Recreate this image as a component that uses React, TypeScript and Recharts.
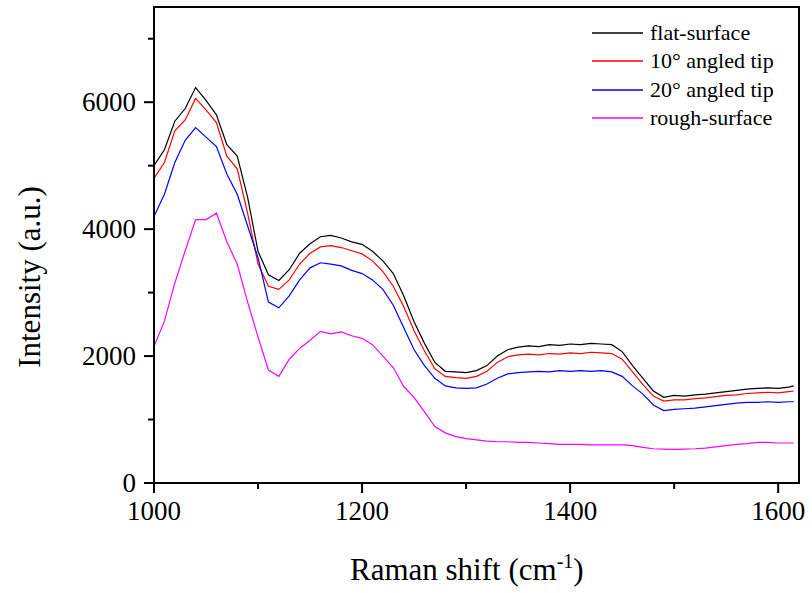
import React from "react";
import {
  LineChart,
  Line,
  XAxis,
  YAxis,
  ReferenceArea,
  Legend,
} from "recharts";

// Raman shift values (cm-1)
const shifts = [
  1000, 1010, 1020, 1030, 1040, 1050, 1060, 1070, 1080, 1090, 1100, 1110, 1120,
  1130, 1140, 1150, 1160, 1170, 1180, 1190, 1200, 1210, 1220, 1230, 1240, 1250,
  1260, 1270, 1280, 1290, 1300, 1310, 1320, 1330, 1340, 1350, 1360, 1370, 1380,
  1390, 1400, 1410, 1420, 1430, 1440, 1450, 1460, 1470, 1480, 1490, 1500, 1510,
  1520, 1530, 1540, 1550, 1560, 1570, 1580, 1590, 1600, 1610, 1615,
];

const flatSurface = [
  5000, 5250, 5700, 5900, 6230, 6030, 5800, 5330, 5150, 4500, 3650, 3280, 3190,
  3360, 3620, 3770, 3880, 3900, 3860, 3800, 3760, 3650, 3500, 3300, 2950, 2540,
  2200, 1900, 1760, 1750, 1740, 1770, 1850, 2000, 2100, 2140, 2160, 2150, 2180,
  2170, 2190, 2180, 2200, 2190, 2180, 2070, 1850, 1650, 1450, 1350, 1380, 1370,
  1390, 1400, 1420, 1440, 1460, 1480, 1490, 1500, 1490, 1510, 1530,
];

const tip10 = [
  4800, 5050, 5550, 5720, 6060, 5880, 5680, 5150, 4950, 4250, 3450, 3100, 3050,
  3200, 3450, 3620, 3720, 3740, 3710, 3660, 3610, 3500, 3330, 3100, 2780, 2400,
  2080, 1800, 1680, 1660, 1650, 1680, 1760, 1900, 1990, 2020, 2030, 2020, 2040,
  2030, 2050, 2040, 2060, 2050, 2040, 1950, 1750, 1550, 1370, 1290, 1310, 1310,
  1330, 1340, 1360, 1380, 1390, 1410, 1420, 1430, 1420, 1440, 1450,
];

const tip20 = [
  4200, 4550, 5050, 5400, 5600, 5450, 5300, 4870, 4550, 4050, 3550, 2850, 2760,
  2950, 3200, 3390, 3470, 3450, 3420, 3350, 3300, 3200, 3050, 2800, 2450, 2100,
  1850, 1650, 1530, 1500, 1490, 1500, 1560, 1650, 1720, 1740, 1750, 1760, 1750,
  1770, 1760, 1770, 1760, 1770, 1750, 1680, 1530, 1400, 1230, 1140, 1160, 1170,
  1180, 1200, 1220, 1240, 1260, 1270, 1270, 1280, 1270, 1280, 1280,
];

const roughSurface = [
  2150, 2550, 3150, 3660, 4150, 4150, 4250, 3800, 3450, 2850, 2300, 1780, 1680,
  1950, 2120, 2250, 2390, 2350, 2380, 2320, 2280, 2180, 2000, 1820, 1520, 1350,
  1120, 890, 790, 730, 700, 680, 660, 650, 650, 640, 640, 630, 620, 610, 610,
  610, 600, 600, 600, 600, 590, 560, 540, 535, 530, 535, 540, 550, 570, 590, 610,
  620, 640, 640, 630, 630, 630,
];

const xTicks = [1000, 1100, 1200, 1300, 1400, 1500, 1600];
const xLabels = [1000, 1200, 1400, 1600];
const yTicks = [0, 1000, 2000, 3000, 4000, 5000, 6000, 7000];
const yLabels = [0, 2000, 4000, 6000];

const seriesNames = ["flat-surface", "10\u00b0 angled tip", "20\u00b0 angled tip", "rough-surface"];
const seriesKeys = ["flat", "tip10", "tip20", "rough"];
const seriesColors = ["#000000", "#ff0000", "#0000ff", "#ff00ff"];

const data = shifts.map((x, i) => ({
  x,
  flat: flatSurface[i],
  tip10: tip10[i],
  tip20: tip20[i],
  rough: roughSurface[i],
}));

const FONT = "'Liberation Serif', 'Times New Roman', serif";

const XTick = (props: any) => {
  const { x, y, payload } = props;
  const major = xLabels.includes(payload.value);
  return (
    <g>
      <line x1={x} y1={y} x2={x} y2={y + (major ? 10 : 6)} stroke="#000" strokeWidth={2} />
      {major && (
        <text x={x} y={y + 37} textAnchor="middle" fontSize={27} fontFamily={FONT} fill="#000">
          {payload.value}
        </text>
      )}
    </g>
  );
};

const YTick = (props: any) => {
  const { x, y, payload } = props;
  const major = yLabels.includes(payload.value);
  return (
    <g>
      <line x1={x} y1={y} x2={x - (major ? 10 : 6)} y2={y} stroke="#000" strokeWidth={2} />
      {major && (
        <text x={x - 18} y={y + 9} textAnchor="end" fontSize={27} fontFamily={FONT} fill="#000">
          {payload.value}
        </text>
      )}
    </g>
  );
};

const renderLegend = () => (
  <div style={{ fontFamily: FONT, fontSize: 22, color: "#000" }}>
    {seriesNames.map((name, i) => (
      <div key={name} style={{ display: "flex", alignItems: "center", height: 28.3 }}>
        <svg width={58} height={10} style={{ display: "block" }}>
          <line x1={0} y1={5} x2={51} y2={5} stroke={seriesColors[i]} strokeWidth={1.5} />
        </svg>
        <span style={{ lineHeight: "22px" }}>{name}</span>
      </div>
    ))}
  </div>
);

const App = () => {
  return (
    <div style={{ position: "absolute", left: 0, top: 0, background: "#fff" }}>
      <LineChart
        width={812}
        height={593}
        data={data}
        margin={{ top: 7, right: 13, left: 0, bottom: 0 }}
      >
        <XAxis
          dataKey="x"
          type="number"
          domain={[1000, 1620]}
          ticks={xTicks}
          tickSize={0}
          tickMargin={0}
          tick={<XTick />}
          axisLine={{ stroke: "#000", strokeWidth: 2 }}
          height={110}
          label={{
            content: () => (
              <text x={350} y={580} fontSize={31} fontFamily={FONT} fill="#000">
                Raman shift (cm
                <tspan dy={-12} fontSize={20}>-1</tspan>
                <tspan dy={12}>)</tspan>
              </text>
            ),
          }}
        />
        <YAxis
          type="number"
          domain={[0, 7500]}
          ticks={yTicks}
          tickSize={0}
          tickMargin={0}
          tick={<YTick />}
          axisLine={{ stroke: "#000", strokeWidth: 2 }}
          width={154}
          label={{
            content: () => (
              <text
                x={40}
                y={277}
                transform="rotate(-90 40 277)"
                textAnchor="middle"
                fontSize={31}
                fontFamily={FONT}
                fill="#000"
              >
                Intensity (a.u.)
              </text>
            ),
          }}
        />
        <ReferenceArea
          x1={1000}
          x2={1620}
          y1={0}
          y2={7500}
          fill="none"
          stroke="#000"
          strokeWidth={2}
          fillOpacity={0}
        />
        <Legend
          content={renderLegend}
          layout="vertical"
          align="center"
          verticalAlign="middle"
          wrapperStyle={{ left: 592, top: 19, width: 210 }}
        />
        {seriesKeys.map((key, i) => (
          <Line
            key={key}
            type="linear"
            dataKey={key}
            name={seriesNames[i]}
            stroke={seriesColors[i]}
            strokeWidth={1.2}
            dot={false}
            isAnimationActive={false}
          />
        ))}
      </LineChart>
    </div>
  );
};

export default App;
